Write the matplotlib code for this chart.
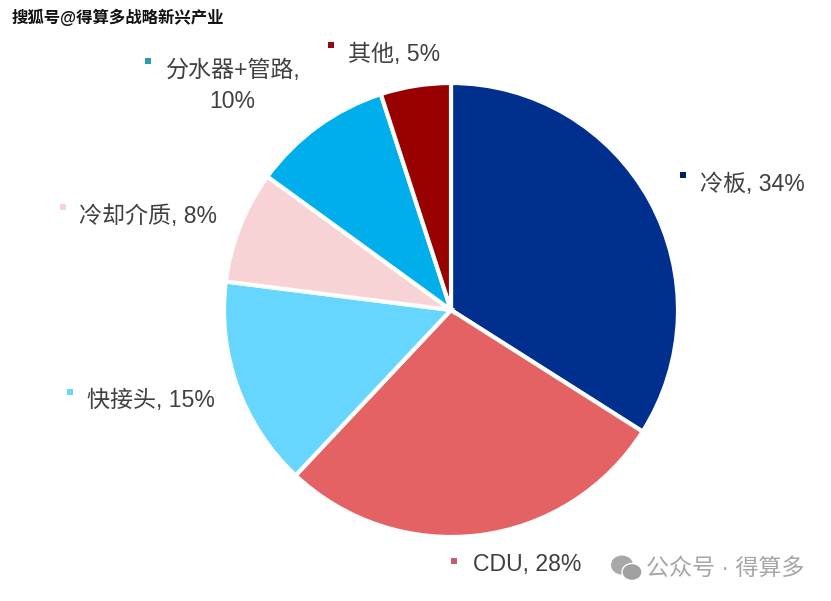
import matplotlib
matplotlib.use('Agg')
import matplotlib.pyplot as plt
from matplotlib.patches import Ellipse, Rectangle

plt.rcParams['font.family'] = ['Liberation Sans', 'Noto Sans CJK SC', 'DejaVu Sans']

categories = ['冷板', 'CDU', '快接头', '冷却介质', '分水器+管路', '其他']
values = [34, 28, 15, 8, 10, 5]
colors = ['#002F8E', '#E46264', '#66D6FF', '#F8D3D6', '#00AEEC', '#990000']

W, H = 831, 601
fig = plt.figure(figsize=(W / 100, H / 100), dpi=100, facecolor='white')

# pie axes, placed in pixels
cx, cy, r = 451, 310, 227
ax = fig.add_axes([(cx - r) / W, 1 - (cy + r) / H, 2 * r / W, 2 * r / H])
ax.pie(values, colors=colors, startangle=90, counterclock=False, radius=1,
       wedgeprops={'edgecolor': 'white', 'linewidth': 3})
ax.set_xlim(-1, 1)
ax.set_ylim(-1, 1)
ax.set_aspect('equal')

# overlay in pixel coords for labels
ov = fig.add_axes([0, 0, 1, 1], facecolor='none')
ov.set_xlim(0, W)
ov.set_ylim(H, 0)
ov.axis('off')

labels = [
    (f'{categories[0]}, {values[0]}%', 700, 185, 'left'),
    (f'{categories[1]}, {values[1]}%', 473, 564, 'left'),
    (f'{categories[2]}, {values[2]}%', 87, 401, 'left'),
    (f'{categories[3]}, {values[3]}%', 79, 216, 'left'),
    (f'{categories[4]},', 166, 71, 'left'),
    (f'{values[4]}%', 232, 102, 'center'),
    (f'{categories[5]}, {values[5]}%', 348, 54, 'left'),
]
for txt, x, y, ha in labels:
    ov.text(x, y, txt, fontsize=16.6, color='#404040', ha=ha, va='center')

# little legend squares
squares = [(683, 175, '#002060'), (454, 561, '#C0606E'), (70, 392, colors[2]),
           (63, 207, colors[3]), (148, 61, '#2A9DB5'), (331, 45, '#8E0B10')]
for x, y, c in squares:
    ov.add_patch(Rectangle((x - 3, y - 3), 6, 6, color=c, lw=0))

# watermark top-left
ov.text(12, 17, '搜狐号@得算多战略新兴产业', fontsize=11.8, color='#111111',
        fontweight='bold', ha='left', va='center')

# wechat mark bottom-right
ov.add_patch(Ellipse((622, 565), 22, 19, color='#A8A8A8', lw=0))
ov.add_patch(Ellipse((632, 572), 20, 17, color='#A0A0A0', ec='white', lw=1))
ov.text(646, 568, '公众号 · 得算多', fontsize=16.6, color='#A6A6A6', ha='left', va='center')

fig.savefig('out.png', dpi=100, facecolor='white')
